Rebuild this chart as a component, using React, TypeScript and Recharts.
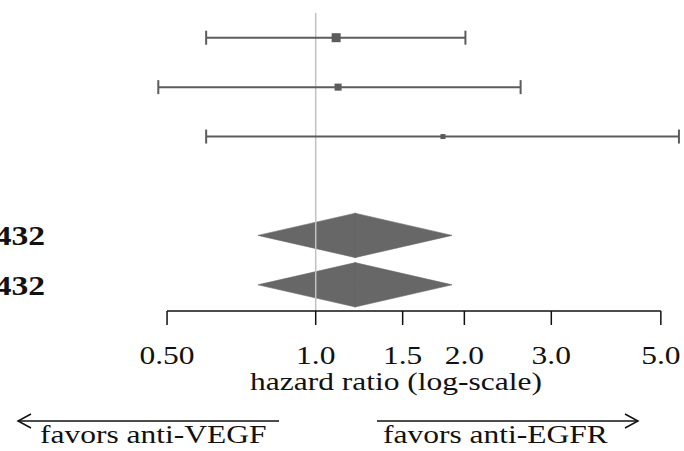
import { ComposedChart, Scatter, ErrorBar, XAxis, YAxis, ReferenceLine, ReferenceArea, Customized } from 'recharts'

// row layout (1 = top)
const rows = [1, 2, 3, 4, 5, 6]
const rowLabels = ['', '', '', '', '432', '432']

// single trials
const studyRow = [1, 2, 3]
const studyHr = [1.1, 1.11, 1.81]
const studyLo = [0.6, 0.48, 0.6]
const studyHi = [2.01, 2.6, 5.44]
const studyWeight = [52, 32, 16]

// pooled estimates (diamonds)
const pooledRow = [5, 6]
const pooledHr = [1.2, 1.2]
const pooledLo = [0.764, 0.764]
const pooledHi = [1.888, 1.888]

const tickValues = [0.5, 1, 1.5, 2, 3, 5]
const tickLabels = ['0.50', '1.0', '1.5', '2.0', '3.0', '5.0']

const SERIF = "'Liberation Serif', 'Times New Roman', serif"
const STRETCH = 1.26
const FS = 25
const Y_DOMAIN: [number, number] = [0.5, 6.53]
const X_DOMAIN: [number, number] = [0.283, 5.57]
const DIAMOND_H = 0.45
const GREY = '#5c5c5c'
const DIAMOND = '#676767'

const studies = studyRow.map((r, i) => ({
  row: r,
  hr: studyHr[i],
  err: [studyHr[i] - studyLo[i], studyHi[i] - studyHr[i]],
  w: studyWeight[i],
}))

const Square = (props: any) => {
  const { cx, cy, payload } = props
  const s = 1.25 * Math.sqrt(payload.w)
  return <rect x={cx - s / 2} y={cy - s / 2} width={s} height={s} fill={GREY} />
}

// each diamond is drawn as two triangles: lower CI -> estimate, estimate -> upper CI
const LeftHalf = (props: any) => {
  const { x, y, width, height } = props
  return (
    <polygon
      points={`${x},${y + height / 2} ${x + width + 0.8},${y} ${x + width + 0.8},${y + height}`}
      fill={DIAMOND} stroke={DIAMOND} strokeWidth={0.6} strokeLinejoin="round"
    />
  )
}

const RightHalf = (props: any) => {
  const { x, y, width, height } = props
  return (
    <polygon
      points={`${x},${y} ${x + width},${y + height / 2} ${x},${y + height}`}
      fill={DIAMOND} stroke={DIAMOND} strokeWidth={0.6} strokeLinejoin="round"
    />
  )
}

const XTick = (props: any) => {
  const { x, payload } = props
  const label = tickLabels[tickValues.indexOf(payload.value)] ?? ''
  return (
    <text transform={`translate(${x} 364) scale(${STRETCH} 1)`} textAnchor="middle"
      fontFamily={SERIF} fontSize={FS} fill="#111">
      {label}
    </text>
  )
}

const YTick = (props: any) => {
  const { x, y, payload } = props
  const label = rowLabels[rows.indexOf(payload.value)] ?? ''
  return (
    <text transform={`translate(${x} ${y + 10}) scale(1.2 1)`} textAnchor="end"
      fontFamily={SERIF} fontSize={28} fontWeight="bold" fill="#111">
      {label}
    </text>
  )
}

const Annotations = () => (
  <g fontFamily={SERIF} fill="#111">
    <text transform={`translate(396 390) scale(${STRETCH} 1)`} textAnchor="middle" fontSize={FS}>
      hazard ratio (log-scale)
    </text>
    <g stroke="#111" strokeWidth={1.5} fill="none">
      <line x1={18} y1={421} x2={279} y2={421} />
      <polyline points="31,414 18,421 31,428" />
      <line x1={377} y1={421} x2={638} y2={421} />
      <polyline points="625,414 638,421 625,428" />
    </g>
    <text transform={`translate(40 443) scale(${STRETCH} 1)`} fontSize={FS}>favors anti-VEGF</text>
    <text transform={`translate(383 443) scale(${STRETCH} 1)`} fontSize={FS}>favors anti-EGFR</text>
  </g>
)

export default function App() {
  return (
    <div style={{ position: 'absolute', left: 0, top: 0, background: '#fff' }}>
      <ComposedChart width={684} height={451} margin={{ top: 13, right: 0, bottom: 0, left: 0 }}>
        <XAxis
          type="number" dataKey="hr" scale="log" domain={X_DOMAIN} allowDataOverflow
          ticks={tickValues} interval={0} height={140}
          axisLine={false} tickLine={{ stroke: '#111', strokeWidth: 1.5 }} tickSize={14}
          tick={<XTick />}
        />
        <YAxis
          type="number" dataKey="row" domain={Y_DOMAIN} allowDataOverflow reversed
          ticks={rows} interval={0} width={45}
          axisLine={false} tickLine={false} tickSize={0} tickMargin={0}
          tick={<YTick />}
        />
        {pooledRow.map((r, i) => (
          <ReferenceArea key={`l${i}`} x1={pooledLo[i]} x2={pooledHr[i]} y1={r - DIAMOND_H} y2={r + DIAMOND_H}
            shape={<LeftHalf />} />
        ))}
        {pooledRow.map((r, i) => (
          <ReferenceArea key={`r${i}`} x1={pooledHr[i]} x2={pooledHi[i]} y1={r - DIAMOND_H} y2={r + DIAMOND_H}
            shape={<RightHalf />} />
        ))}
        <ReferenceLine x={1} stroke="#c2c2c2" strokeWidth={1.5} />
        <ReferenceLine
          segment={[{ x: tickValues[0], y: Y_DOMAIN[1] }, { x: tickValues[tickValues.length - 1], y: Y_DOMAIN[1] }]}
          stroke="#111" strokeWidth={1.5}
        />
        <Scatter data={studies} shape={<Square />} isAnimationActive={false}>
          <ErrorBar dataKey="err" direction="x" width={7} stroke={GREY} strokeWidth={2} isAnimationActive={false} />
        </Scatter>
        <Customized component={<Annotations />} />
      </ComposedChart>
    </div>
  )
}
